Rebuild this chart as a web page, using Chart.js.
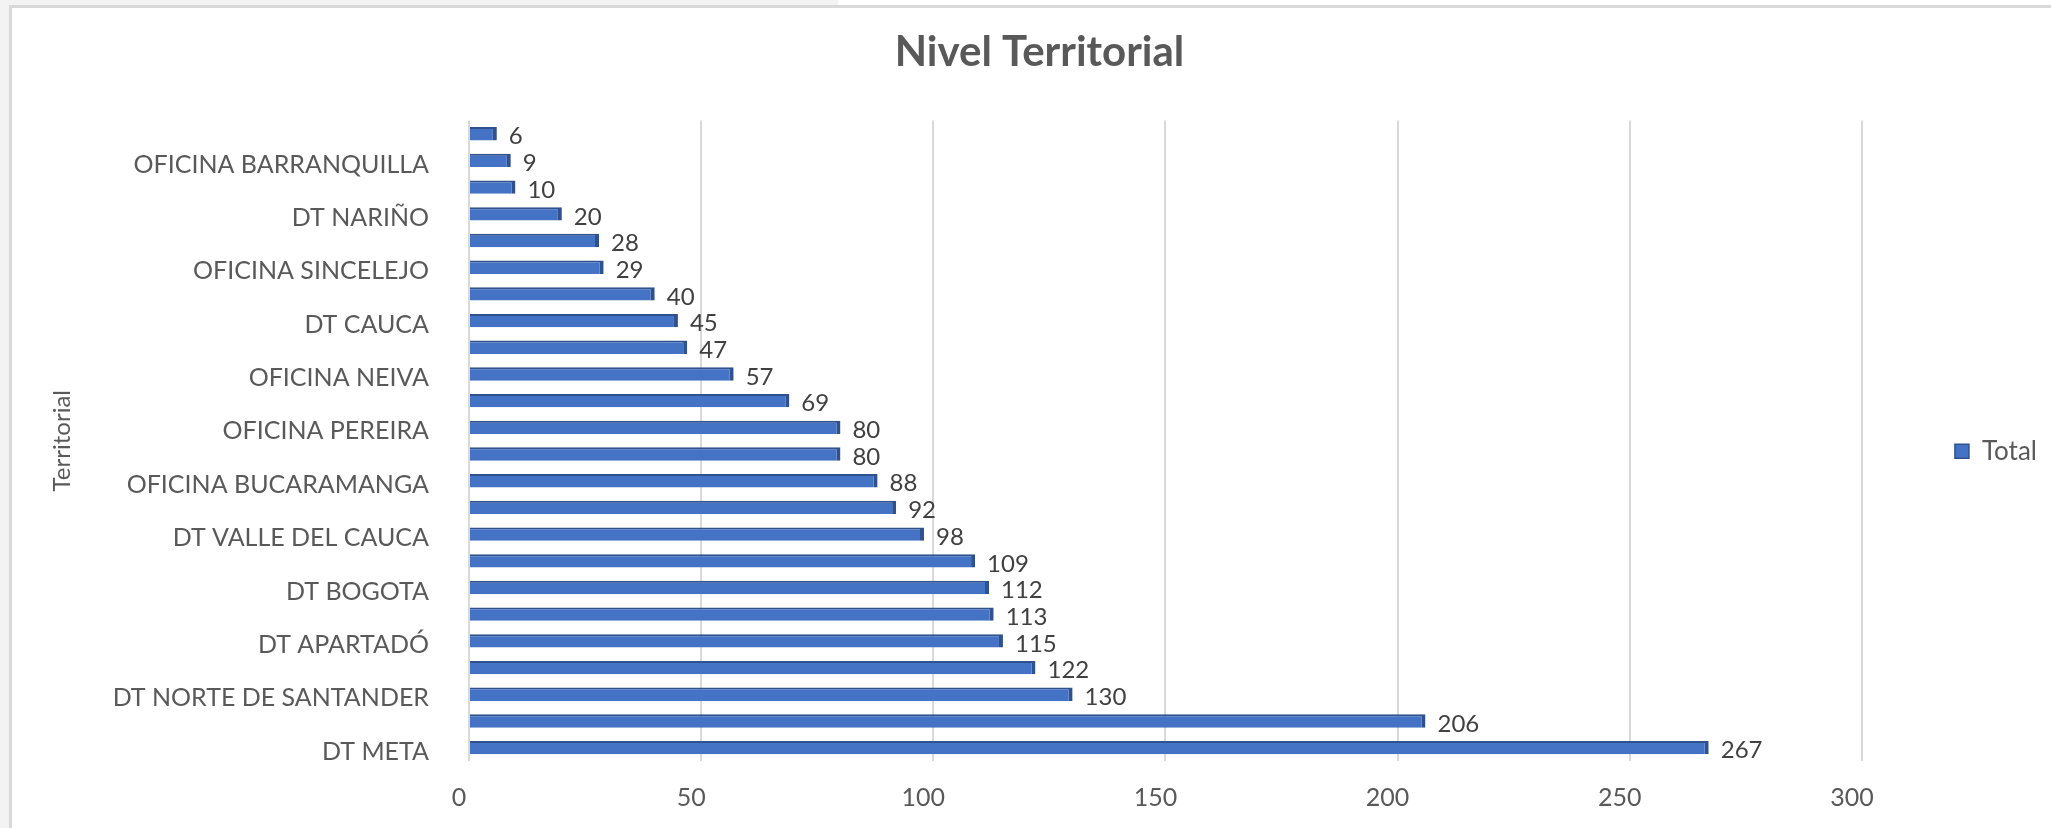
<!DOCTYPE html>
<html>
<head>
<meta charset="utf-8">
<script src="https://cdn.jsdelivr.net/npm/chart.js@4"></script>
<style>
  body { margin: 0; background: #ffffff; width: 2051px; height: 828px; overflow: hidden; position: relative; }
  .grayTop { position: absolute; left: 0; top: 0; width: 838px; height: 5px; background: #f3f3f3; }
  .grayLeft { position: absolute; left: 0; top: 0; width: 9px; height: 828px; background: #f3f3f3; }
  .frame { position: absolute; left: 9px; top: 5px; right: 0; bottom: 0; background: #fff;
           border-left: 3px solid #d9d9d9; border-top: 3px solid #d9d9d9; }
  .box { position: absolute; left: 12px; top: 8px; width: 2039px; height: 820px; }
</style>
</head>
<body>
<div class="grayTop"></div>
<div class="grayLeft"></div>
<div class="frame"></div>
<div class="box"><canvas id="myChart"></canvas></div>
<script>
// categories top to bottom, Excel only prints every second name
const territorios = [
    '', 'OFICINA BARRANQUILLA', '', 'DT NARIÑO', '', 'OFICINA SINCELEJO',
    '', 'DT CAUCA', '', 'OFICINA NEIVA', '', 'OFICINA PEREIRA',
    '', 'OFICINA BUCARAMANGA', '', 'DT VALLE DEL CAUCA', '', 'DT BOGOTA',
    '', 'DT APARTADÓ', '', 'DT NORTE DE SANTANDER', '', 'DT META'
];
const totales = [6, 9, 10, 20, 28, 29, 40, 45, 47, 57, 69, 80, 80, 88, 92, 98, 109, 112, 113, 115, 122, 130, 206, 267];
const xTicks = [0, 50, 100, 150, 200, 250, 300];

const FONT = "Lato, 'Open Sans', sans-serif";

// value labels at the end of each bar
const valueLabels = {
    id: 'valueLabels',
    afterDatasetsDraw(chart) {
        const ctx = chart.ctx;
        ctx.save();
        ctx.font = '24px ' + FONT;
        ctx.fillStyle = '#404040';
        ctx.textAlign = 'left';
        ctx.textBaseline = 'middle';
        chart.getDatasetMeta(0).data.forEach((bar, i) => {
            ctx.fillText(totales[i], bar.x + 12, bar.y + 3);
        });
        ctx.restore();
    }
};

const config = {
    type: 'bar',
    data: {
        labels: territorios,
        datasets: [{
            label: 'Total',
            data: totales,
            backgroundColor: '#4472c4',
            borderColor: '#2f528f',
            borderWidth: { top: 2, right: 4, bottom: 0, left: 0 },
            borderSkipped: false,
            barPercentage: 0.5,
            categoryPercentage: 1.0,
        }]
    },
    options: {
        indexAxis: 'y',
        responsive: true,
        maintainAspectRatio: false,
        animation: false,
        layout: { padding: { left: 20, right: 4, top: 0, bottom: 0 } },
        plugins: {
            title: {
                display: true,
                text: 'Nivel Territorial',
                color: '#595959',
                font: { family: FONT, size: 42, weight: 'bold' },
                padding: { top: 19, bottom: 43 }
            },
            legend: {
                position: 'right',
                title: { display: true, text: '', font: { size: 12 }, padding: { top: 0, bottom: 52 } },
                labels: {
                    color: '#595959',
                    font: { family: FONT, size: 26 },
                    boxWidth: 14,
                    boxHeight: 14,
                    padding: 93
                }
            },
            tooltip: { enabled: false }
        },
        scales: {
            x: {
                min: 0,
                max: 300,
                afterBuildTicks(scale) {
                    scale.ticks = xTicks.map(v => ({ value: v }));
                },
                afterFit(scale) { scale.height = 67; },
                grid: { color: '#d9d9d9', lineWidth: 2, drawTicks: false },
                border: { display: false },
                ticks: {
                    color: '#595959',
                    font: { family: FONT, size: 25 },
                    padding: 22,
                    labelOffset: -10
                }
            },
            y: {
                afterFit(scale) { scale.width = 437; },
                grid: { display: false },
                border: { display: false },
                ticks: {
                    autoSkip: false,
                    color: '#595959',
                    font: { family: FONT, size: 25 },
                    padding: 32,
                    labelOffset: 4
                },
                title: {
                    display: true,
                    text: 'Territorial',
                    color: '#595959',
                    font: { family: FONT, size: 24 },
                    padding: { top: 16, bottom: 0 }
                }
            }
        }
    },
    plugins: [valueLabels]
};

const myChart = new Chart(document.getElementById('myChart'), config);
</script>
</body>
</html>
